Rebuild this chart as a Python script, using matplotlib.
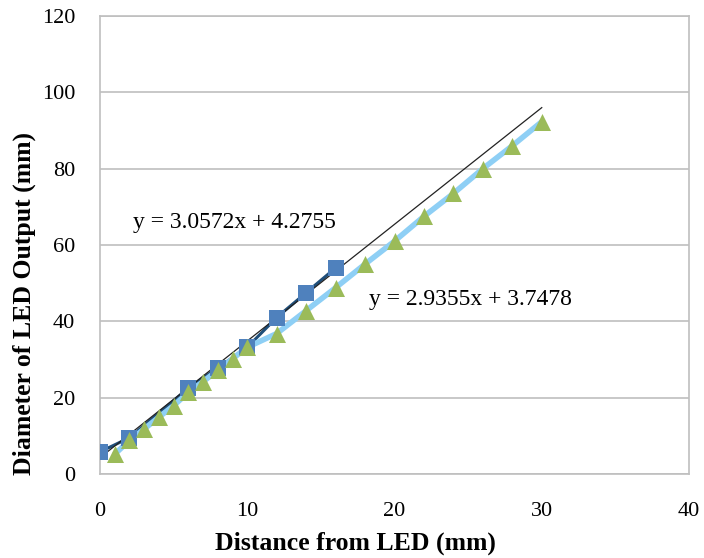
import matplotlib
matplotlib.use("Agg")
import matplotlib.pyplot as plt
import numpy as np

# Data
sq_x = [0, 2, 6, 8, 10, 12, 14, 16]
sq_y = [5.8, 9.5, 22.5, 27.8, 33.2, 41.0, 47.5, 54.0]
tri_x = [1, 2, 3, 4, 5, 6, 7, 8, 9, 10, 12, 14, 16, 18, 20, 22, 24, 26, 28, 30]
tri_y = [5.2, 8.8, 11.8, 14.9, 17.9, 21.4, 24.2, 27.2, 30.2, 33.2, 36.8, 42.8, 48.8, 55.0,
         61.0, 67.5, 73.5, 80.0, 86.0, 92.3]
trend_slope = 3.0572
trend_icpt = 4.2755
trend_x = [0, 30]
eq1 = "y = 3.0572x + 4.2755"
eq2 = "y = 2.9355x + 3.7478"
x_ticks = [0, 10, 20, 30, 40]
y_ticks = [0, 20, 40, 60, 80, 100, 120]

plt.rcParams['font.family'] = ['Liberation Serif', 'DejaVu Serif']

fig = plt.figure(figsize=(7.04, 5.58), dpi=100)
ax = fig.add_axes([100/704, 1-474/558, 589/704, 458/558])

ax.plot(sq_x, sq_y, color='#1F4E79', lw=2.2, zorder=2, solid_capstyle='round')
ax.plot(tri_x, tri_y, color='#8ECFF5', lw=4, zorder=3, solid_capstyle='round')
tx = np.array(trend_x, dtype=float)
ax.plot(tx, trend_slope*tx + trend_icpt, color='#222222', lw=0.9, zorder=4)
ax.scatter(sq_x, sq_y, marker='s', s=125, color='#4F81BD', zorder=5, linewidths=0)
ax.scatter(tri_x, tri_y, marker='^', s=150, color='#9BBB59', zorder=6, linewidths=0)

ax.text(2.25, 66, eq1, fontsize=17, ha='left', va='center', zorder=7)
ax.text(18.3, 45.6, eq2, fontsize=17, ha='left', va='center', zorder=7)

ax.set_xlim(0, 40)
ax.set_ylim(0, 120)
ax.set_xticks(x_ticks)
ax.set_yticks(y_ticks)
ax.tick_params(length=0, labelsize=16)
ax.tick_params(axis='x', pad=20)
ax.tick_params(axis='y', pad=18)
ax.grid(axis='y', color='#BFBFBF', lw=1.2)
ax.set_axisbelow(True)
for s in ax.spines.values():
    s.set_color('#BFBFBF')
    s.set_linewidth(1.2)

ax.set_xlabel("Distance from LED (mm)", fontsize=18.5, fontweight='bold', labelpad=8)
ax.set_ylabel("Diameter of LED Output (mm)", fontsize=18.5, fontweight='bold', labelpad=4)
ax.xaxis.label.set_x(0.433)
ax.yaxis.label.set_y(0.373)

fig.savefig("out.png", dpi=100)
